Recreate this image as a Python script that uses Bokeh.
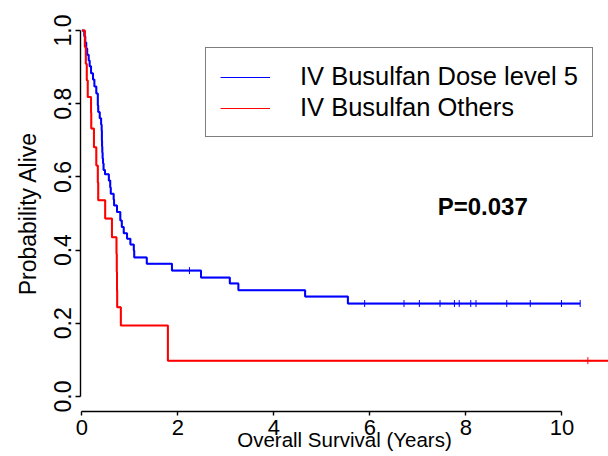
import numpy as np
from bokeh.plotting import figure
from bokeh.models import (Range1d, FixedTicker, Label, Legend, LegendItem,
                          PrintfTickFormatter)
from bokeh.embed import file_html
from bokeh.resources import INLINE

# ---- data ----
blue_times = [0.05, 0.07, 0.09, 0.11, 0.14, 0.16, 0.19, 0.23, 0.26, 0.30,
              0.33, 0.34, 0.37, 0.40, 0.41, 0.415, 0.42, 0.425, 0.43, 0.44,
              0.45, 0.48, 0.56, 0.59, 0.60, 0.66, 0.67, 0.73, 0.80, 0.83,
              0.87, 0.94, 1.01, 1.08, 1.09, 1.35, 1.875, 2.48, 3.08, 3.26,
              4.65, 5.54]
blue_surv = [0.984, 0.967, 0.951, 0.934, 0.918, 0.902, 0.883, 0.866, 0.847, 0.828,
             0.795, 0.777, 0.760, 0.743, 0.727, 0.699, 0.683, 0.667, 0.650, 0.637,
             0.619, 0.607, 0.590, 0.571, 0.554, 0.538, 0.522, 0.504, 0.481, 0.463,
             0.446, 0.431, 0.415, 0.399, 0.380, 0.363, 0.344, 0.325, 0.309, 0.290,
             0.273, 0.254]
blue_end = 10.38
blue_censor = [2.24, 5.89, 6.71, 7.03, 7.46, 7.76, 7.86, 8.10, 8.21, 8.85, 9.34, 9.99, 10.38]

red_times = [0.06, 0.08, 0.10, 0.12, 0.19, 0.195, 0.25, 0.30, 0.33, 0.34,
             0.485, 0.625, 0.72, 0.725, 0.73, 0.735, 0.81, 1.79]
red_surv = [0.955, 0.909, 0.864, 0.818, 0.775, 0.732, 0.681, 0.631, 0.585, 0.536,
            0.486, 0.435, 0.39, 0.34, 0.29, 0.244, 0.194, 0.098]
red_end = 11.2
red_censor = [10.54]

x_ticks = [0, 2, 4, 6, 8, 10]
y_ticks = [0.0, 0.2, 0.4, 0.6, 0.8, 1.0]
series_names = ["IV Busulfan Dose level 5", "IV Busulfan Others"]
p_value_text = "P=0.037"
x_title = "Overall Survival (Years)"
y_title = "Probability Alive"

BLUE = "#0000ff"
RED = "#ff0000"
FONT = "Liberation Sans"


def step_xy(times, surv, end):
    xs = [0.0] + list(times) + [end]
    ys = [1.0] + list(surv) + [surv[-1]]
    return xs, ys


def surv_at(times, surv, t):
    s = 1.0
    for ti, si in zip(times, surv):
        if ti <= t:
            s = si
    return s


p = figure(width=608, height=456,
           x_range=Range1d(-0.03, 10.97), y_range=Range1d(-0.041, 1.041),
           output_backend="svg", toolbar_location=None,
           min_border_left=80, min_border_right=0,
           min_border_top=15, min_border_bottom=45)
p.outline_line_color = None
p.grid.visible = False
p.background_fill_color = "white"
p.border_fill_color = "white"

bx, by = step_xy(blue_times, blue_surv, blue_end)
rx, ry = step_xy(red_times, red_surv, red_end)
# thin copies used for the legend glyphs (hidden beneath the thick curves)
lb = p.step(bx, by, mode="after", line_color=BLUE, line_width=1.2)
lr = p.step(rx, ry, mode="after", line_color=RED, line_width=1.2)
p.step(bx, by, mode="after", line_color=BLUE, line_width=2)
p.step(rx, ry, mode="after", line_color=RED, line_width=2)

p.scatter(blue_censor, [surv_at(blue_times, blue_surv, t) for t in blue_censor],
          marker="dash", angle=np.pi / 2, size=7, line_color=BLUE, line_width=1)
p.scatter(red_censor, [surv_at(red_times, red_surv, t) for t in red_censor],
          marker="dash", angle=np.pi / 2, size=7, line_color=RED, line_width=1)

legend = Legend(items=[LegendItem(label=series_names[0], renderers=[lb]),
                       LegendItem(label=series_names[1], renderers=[lr])],
                location=(125, 274))
legend.border_line_color = "black"
legend.border_line_width = 1.5
legend.background_fill_color = "white"
legend.background_fill_alpha = 1.0
legend.label_text_font = FONT
legend.label_text_font_size = "25.5px"
legend.label_text_color = "black"
legend.glyph_width = 50
legend.glyph_height = 20
legend.label_standoff = 30
legend.padding = 14
legend.spacing = 2
legend.margin = 0
p.add_layout(legend)

# axes
xa = p.xaxis[0]
xa.ticker = FixedTicker(ticks=x_ticks)
xa.bounds = (0, 10)
xa.minor_tick_line_color = None
xa.major_tick_in = 0
xa.major_tick_out = 4
xa.axis_line_color = "black"
xa.axis_line_width = 1.4
xa.major_tick_line_width = 1.4
xa.major_label_standoff = 4
xa.major_label_text_font = FONT
xa.major_label_text_font_size = "22px"
xa.major_label_text_color = "black"
xa.axis_label = x_title
xa.axis_label_text_font = FONT
xa.axis_label_text_font_size = "20.5px"
xa.axis_label_text_font_style = "normal"
xa.axis_label_text_color = "black"
xa.axis_label_standoff = -10

ya = p.yaxis[0]
ya.ticker = FixedTicker(ticks=y_ticks)
ya.formatter = PrintfTickFormatter(format="%.1f")
ya.bounds = (0, 1)
ya.minor_tick_line_color = None
ya.major_tick_in = 0
ya.major_tick_out = 5
ya.axis_line_color = "black"
ya.axis_line_width = 1.4
ya.major_tick_line_width = 1.4
ya.major_label_orientation = "parallel"
ya.major_label_standoff = 4
ya.major_label_text_font = FONT
ya.major_label_text_font_size = "23px"
ya.major_label_text_color = "black"
ya.axis_label = y_title
ya.axis_label_text_font = FONT
ya.axis_label_text_font_size = "23px"
ya.axis_label_text_font_style = "normal"
ya.axis_label_text_color = "black"
ya.axis_label_standoff = 11

p.add_layout(Label(x=8.35, y=0.519, text=p_value_text, text_align="center",
                   text_baseline="middle", text_font=FONT,
                   text_font_size="24px", text_font_style="bold",
                   text_color="black"))

open("out.html", "w").write(file_html(p, INLINE))
